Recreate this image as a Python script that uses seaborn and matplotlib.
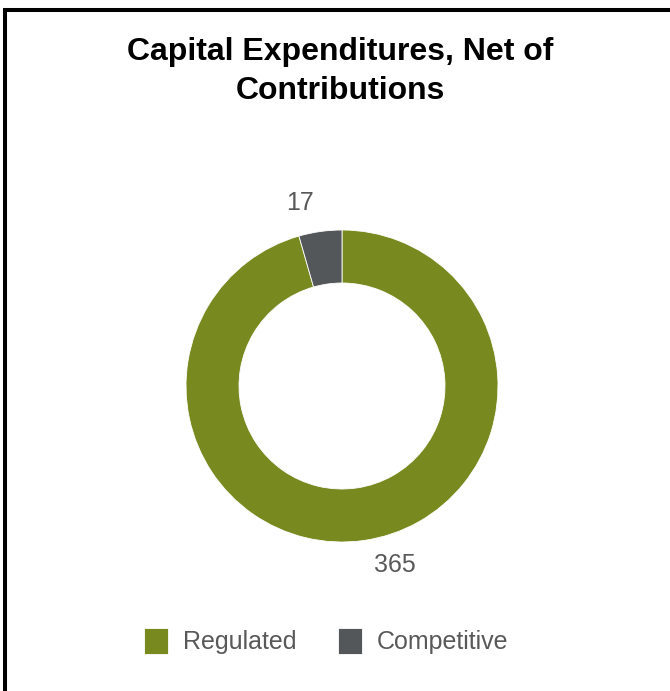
import matplotlib
matplotlib.use("Agg")
import matplotlib.pyplot as plt
import seaborn as sns
from matplotlib.patches import Rectangle

# Chart data
segments = ["Regulated", "Competitive"]
values = [365, 17]
colors = ["#788920", "#54575A"]
title = "Capital Expenditures, Net of\nContributions"

sns.set_theme(style="white")
plt.rcParams["font.family"] = ["Liberation Sans", "DejaVu Sans"]

W, H = 670, 691
fig = plt.figure(figsize=(W / 100, H / 100), dpi=100)

# Frame (top and left edges visible, rest cropped)
fig.patches.append(Rectangle((5 / W, -0.1), 1.2, (H - 10) / H + 0.1,
                             transform=fig.transFigure, fill=False,
                             edgecolor="black", linewidth=2.9))

# Donut axes placed so that radius 1 = 156 px
cx, cy, r = 342, 386, 156
ax = fig.add_axes([(cx - r) / W, (H - cy - r) / H, 2 * r / W, 2 * r / H])
wedges, _ = ax.pie(values, colors=colors, startangle=90, counterclock=False,
                   wedgeprops=dict(width=53 / 156, edgecolor="white", linewidth=0.6))
ax.set_xlim(-1, 1)
ax.set_ylim(-1, 1)
ax.set_aspect("equal")
ax.axis("off")

# Value labels
label_pos = [(0.34, -1.146), (-0.27, 1.17)]
for (x, y), v in zip(label_pos, values):
    ax.text(x, y, str(v), ha="center", va="center", fontsize=18, color="#595959")

fig.text(0.508, 1 - 37 / H, title, ha="center", va="top", fontsize=23,
         fontweight="bold", color="black", linespacing=1.38)

fig.legend(wedges, segments, loc="center", bbox_to_anchor=(0.487, 1 - 641 / H),
           ncol=2, frameon=False, fontsize=18, labelcolor="#595959",
           handlelength=0.95, handleheight=1.2, handletextpad=0.6,
           columnspacing=1.65)

fig.savefig("out.png", dpi=100)
